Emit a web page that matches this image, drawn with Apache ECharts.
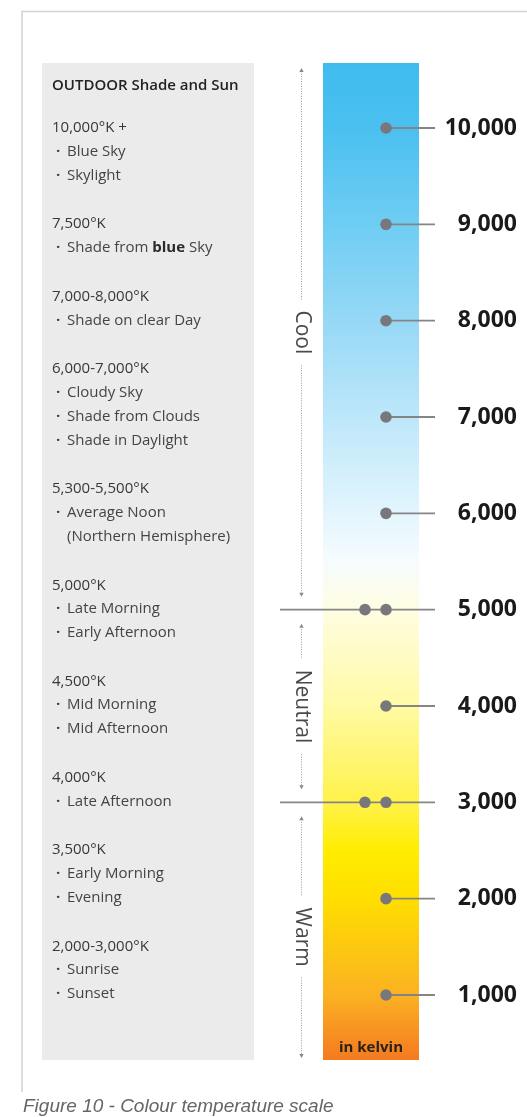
<!DOCTYPE html>
<html><head><meta charset="utf-8">
<script src="https://cdn.jsdelivr.net/npm/echarts@6/dist/echarts.min.js"></script>
<style>html,body{margin:0;padding:0;background:#fff}#c{width:527px;height:1117px}</style>
</head><body><div id="c"></div>
<script>
// ---------- data ----------
const tickValues = [1000, 2000, 3000, 4000, 5000, 6000, 7000, 8000, 9000, 10000];
const tickLabels = ['1,000', '2,000', '3,000', '4,000', '5,000', '6,000', '7,000', '8,000', '9,000', '10,000'];
const boundaryValues = [5000, 3000];
const zoneNames = ['Cool', 'Neutral', 'Warm'];
const zoneUpper = [10675, 5000, 3000];
const zoneLower = [5000, 3000, 325];
const scaleMin = 325;
const scaleMax = 10675;
const gradientKelvin = [10675, 10000, 9000, 8000, 7000, 6000, 5500, 5000, 4000, 3000, 2500, 2000, 1000, 325];
const unitLabel = 'in kelvin';
const panelTitle = 'OUTDOOR Shade and Sun';
const panelHeadings = ['10,000°K +', '7,500°K', '7,000-8,000°K', '6,000-7,000°K', '5,300-5,500°K',
  '5,000°K', '4,500°K', '4,000°K', '3,500°K', '2,000-3,000°K'];
const panelItems = [
  ['Blue Sky', 'Skylight'],
  ['Shade from {b|blue} Sky'],
  ['Shade on clear Day'],
  ['Cloudy Sky', 'Shade from Clouds', 'Shade in Daylight'],
  ['Average Noon', '(Northern Hemisphere)'],
  ['Late Morning', 'Early Afternoon'],
  ['Mid Morning', 'Mid Afternoon'],
  ['Late Afternoon'],
  ['Early Morning', 'Evening'],
  ['Sunrise', 'Sunset']
];
const captionText = 'Figure 10 - Colour temperature scale';

// ---------- style ----------
const gradientColors = ['#3fbcee', '#4ac0f0', '#6fcdf3', '#96d8f6', '#bde7fa', '#e3f5fd', '#f6fcfe', '#fffde2',
  '#fffaa4', '#fff24a', '#ffed00', '#ffde00', '#fbb222', '#f47a21'];
const FONT = '"Open Sans", "Noto Sans", sans-serif';
const dotColor = '#78787c';
const lineColor = '#858585';

const chart = echarts.init(document.getElementById('c'), null, {renderer: 'canvas'});

function measure(text, font) {
  const ctx = document.createElement('canvas').getContext('2d');
  ctx.font = font;
  return ctx.measureText(text).width;
}

const colorStops = gradientKelvin.map((k, i) => ({
  offset: (scaleMax - k) / (scaleMax - scaleMin),
  color: gradientColors[i]
}));

// ---------- left panel graphics ----------
const graphics = [];
graphics.push({type: 'polyline', shape: {points: [[22, 1092], [22, 11.5], [527, 11.5]]},
  style: {stroke: '#d4d4d4', lineWidth: 1.6, fill: null}, silent: true});
graphics.push({type: 'rect', shape: {x: 42, y: 63, width: 212, height: 997},
  style: {fill: '#ebebeb'}, silent: true});
graphics.push({type: 'text', x: 52, y: 86, style: {text: panelTitle, fill: '#222',
  font: '600 15px ' + FONT, verticalAlign: 'middle', align: 'left'}});
let yy = 128;
const lineStep = 23.7, groupStep = 48.8;
panelHeadings.forEach((h, gi) => {
  if (gi > 0) yy += groupStep;
  graphics.push({type: 'text', x: 52, y: yy, style: {text: h, fill: '#383838',
    font: '15px ' + FONT, verticalAlign: 'middle', align: 'left'}});
  panelItems[gi].forEach(it => {
    yy += lineStep;
    const cont = it.charAt(0) === '(';
    if (!cont) {
      graphics.push({type: 'text', x: 56, y: yy, style: {text: '·', fill: '#444',
        font: 'bold 15px ' + FONT, verticalAlign: 'middle', align: 'left'}});
    }
    graphics.push({type: 'text', x: 67, y: yy, style: {text: it, fill: '#444',
      font: '15px ' + FONT, verticalAlign: 'middle', align: 'left',
      rich: {b: {fontWeight: 'bold', fontSize: 15, fontFamily: FONT, fill: '#2a2a2a'}}}});
  });
});
graphics.push({type: 'text', x: 23, y: 1107, style: {text: captionText, fill: '#666',
  font: 'italic 19px "Liberation Sans", Arial, sans-serif', verticalAlign: 'middle', align: 'left'}});

// ---------- series ----------
const barSeries = {
  type: 'custom', silent: true, z: 1,
  data: [[0, scaleMin]],
  renderItem: function (params, api) {
    const tl = api.coord([0, scaleMax]);
    const br = api.coord([1, scaleMin]);
    return {type: 'group', children: [
      {type: 'rect', shape: {x: tl[0], y: tl[1], width: br[0] - tl[0], height: br[1] - tl[1]},
        style: {fill: {type: 'linear', x: 0, y: 0, x2: 0, y2: 1, colorStops: colorStops}}},
      {type: 'text', x: (tl[0] + br[0]) / 2, y: br[1] - 12,
        style: {text: unitLabel, fill: '#2b2118', font: 'bold 15px ' + FONT, align: 'center', verticalAlign: 'middle'}}
    ]};
  }
};

const tickSeries = {
  type: 'custom', silent: true, z: 3,
  data: tickValues.map((v, i) => [0, v, i]),
  renderItem: function (params, api) {
    const v = api.value(1);
    const i = api.value(2);
    const p = api.coord([0, v]);
    const right = api.coord([1, v])[0];
    const y = p[1];
    const dotX = p[0] + 63;
    const ch = [];
    const isB = boundaryValues.indexOf(v) >= 0;
    ch.push({type: 'line', shape: {x1: isB ? p[0] - 43 : dotX, y1: y, x2: right + 16, y2: y},
      style: {stroke: lineColor, lineWidth: 1.8}});
    if (isB) ch.push({type: 'circle', shape: {cx: dotX - 21, cy: y, r: 5.8}, style: {fill: dotColor}});
    ch.push({type: 'circle', shape: {cx: dotX, cy: y, r: 5.8}, style: {fill: dotColor}});
    ch.push({type: 'text', x: right + 98, y: y, style: {text: tickLabels[i], fill: '#1a1a1a',
      font: 'bold 23px ' + FONT, align: 'right', verticalAlign: 'middle'}});
    return {type: 'group', children: ch};
  }
};

const zoneFont = '21px ' + FONT;
const zoneSeries = {
  type: 'custom', silent: true, z: 2,
  data: zoneNames.map((n, i) => [0, zoneUpper[i], zoneLower[i], i]),
  renderItem: function (params, api) {
    const i = api.value(3);
    const up = api.value(1), lo = api.value(2);
    const x = api.coord([0, up])[0] - 21.5;
    const yTop = api.coord([0, up])[1] + (up === scaleMax ? 5 : 14);
    const yBot = api.coord([0, lo])[1] - (lo === scaleMin ? 2 : 13);
    const mid = (yTop + yBot) / 2;
    const half = measure(zoneNames[i], zoneFont) / 2 + 11;
    const dash = {stroke: '#9c9c9c', lineWidth: 1, lineDash: [1, 1.5]};
    const ch = [
      {type: 'line', shape: {x1: x, y1: yTop + 3, x2: x, y2: mid - half}, style: dash},
      {type: 'line', shape: {x1: x, y1: mid + half, x2: x, y2: yBot - 3}, style: dash},
      {type: 'polygon', shape: {points: [[x, yTop], [x - 2.2, yTop + 4], [x + 2.2, yTop + 4]]}, style: {fill: '#8a8a8a'}},
      {type: 'polygon', shape: {points: [[x, yBot], [x - 2.2, yBot - 4], [x + 2.2, yBot - 4]]}, style: {fill: '#8a8a8a'}},
      {type: 'text', x: x, y: mid, rotation: -Math.PI / 2,
        style: {text: zoneNames[i], fill: '#4a4a4a', font: zoneFont, align: 'center', verticalAlign: 'middle'}}
    ];
    return {type: 'group', children: ch};
  }
};

chart.setOption({
  animation: false,
  backgroundColor: '#fff',
  grid: {left: 323, right: 108, top: 63, bottom: 57},
  xAxis: {type: 'value', min: 0, max: 1, show: false},
  yAxis: {type: 'value', min: scaleMin, max: scaleMax, show: false},
  graphic: graphics,
  series: [barSeries, zoneSeries, tickSeries]
});
</script>
</body></html>
